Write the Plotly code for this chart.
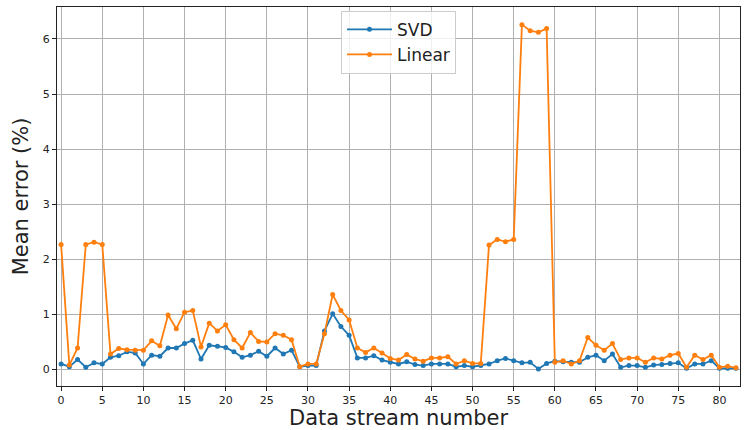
import plotly.graph_objects as go

# Mean error per data stream for the two reconstruction methods
stream = list(range(83))

svd_error = [
    0.10, 0.05, 0.18, 0.04, 0.12, 0.10, 0.22, 0.25, 0.32, 0.30,
    0.10, 0.26, 0.24, 0.39, 0.39, 0.47, 0.53, 0.19, 0.44, 0.42,
    0.40, 0.32, 0.22, 0.26, 0.33, 0.24, 0.39, 0.28, 0.35, 0.05,
    0.07, 0.07, 0.70, 1.01, 0.78, 0.62, 0.21, 0.21, 0.25, 0.17,
    0.13, 0.10, 0.14, 0.09, 0.07, 0.10, 0.10, 0.10, 0.05, 0.07,
    0.05, 0.07, 0.10, 0.16, 0.20, 0.16, 0.12, 0.13, 0.01, 0.11,
    0.15, 0.14, 0.13, 0.13, 0.22, 0.26, 0.16, 0.28, 0.04, 0.07,
    0.07, 0.04, 0.08, 0.09, 0.11, 0.12, 0.02, 0.10, 0.10, 0.16,
    0.02, 0.02, 0.02,
]

linear_error = [
    2.27, 0.08, 0.39, 2.27, 2.31, 2.27, 0.28, 0.38, 0.36, 0.35,
    0.35, 0.52, 0.43, 0.99, 0.74, 1.04, 1.07, 0.41, 0.84, 0.70,
    0.81, 0.54, 0.39, 0.67, 0.51, 0.50, 0.65, 0.62, 0.54, 0.05,
    0.10, 0.10, 0.65, 1.36, 1.07, 0.90, 0.39, 0.31, 0.39, 0.30,
    0.20, 0.17, 0.27, 0.19, 0.15, 0.21, 0.21, 0.23, 0.10, 0.16,
    0.11, 0.11, 2.26, 2.36, 2.32, 2.36, 6.26, 6.15, 6.12, 6.19,
    0.13, 0.16, 0.10, 0.16, 0.58, 0.44, 0.35, 0.47, 0.18, 0.21,
    0.21, 0.13, 0.21, 0.19, 0.26, 0.29, 0.04, 0.26, 0.18, 0.26,
    0.04, 0.06, 0.03,
]

x_ticks = list(range(0, 81, 5))
y_ticks = [0, 1, 2, 3, 4, 5, 6]

font_family = "DejaVu Sans"

fig = go.Figure()
fig.add_trace(go.Scatter(
    x=stream, y=svd_error, name="SVD", mode="lines+markers",
    line=dict(color="#1f77b4", width=1.8),
    marker=dict(color="#1f77b4", size=5),
))
fig.add_trace(go.Scatter(
    x=stream, y=linear_error, name="Linear", mode="lines+markers",
    line=dict(color="#ff7f0e", width=1.8),
    marker=dict(color="#ff7f0e", size=5),
))

axis_common = dict(
    showgrid=True, gridcolor="#b0b0b0", gridwidth=1,
    showline=True, linecolor="#222222", linewidth=1, mirror=True,
    ticks="outside", ticklen=4, tickcolor="#222222",
    tickfont=dict(family=font_family, size=11, color="#222222"),
    zeroline=False,
)

fig.update_layout(
    width=745, height=430,
    margin=dict(l=57, r=4, t=7, b=42),
    paper_bgcolor="white", plot_bgcolor="white",
    font=dict(family=font_family, color="#222222"),
    xaxis=dict(
        range=[-0.5, 82.5], tickvals=x_ticks,
        title=dict(text="Data stream number", font=dict(size=21), standoff=4),
        **axis_common,
    ),
    yaxis=dict(
        range=[-0.3, 6.58], tickvals=y_ticks,
        title=dict(text="Mean error (%)", font=dict(size=21), standoff=8),
        **axis_common,
    ),
    legend=dict(
        x=0.5, xanchor="center", y=0.99, yanchor="top",
        bgcolor="rgba(255,255,255,0.8)", bordercolor="#cccccc", borderwidth=1,
        font=dict(family=font_family, size=17, color="#222222"),
        itemwidth=45,
        tracegroupgap=0,
    ),
    showlegend=True,
)

fig.write_html("out.html")
